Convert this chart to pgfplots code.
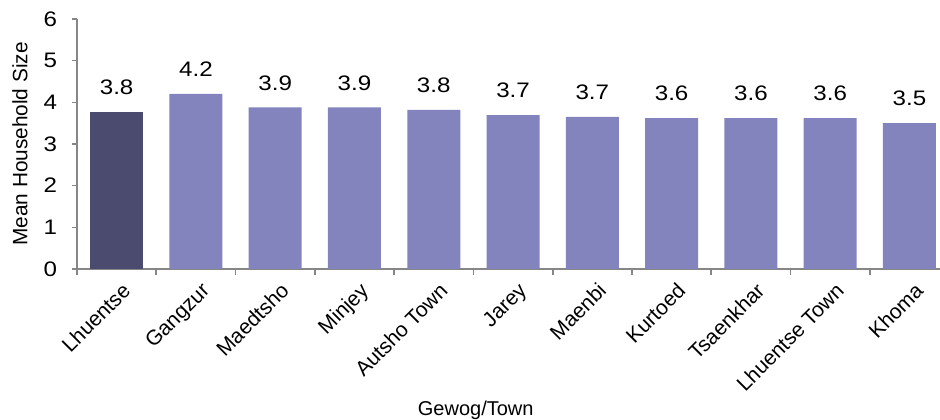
\documentclass[border=0pt]{standalone}
\usepackage{pgfplots}
\pgfplotsset{compat=1.18}
\usepackage{fontspec}
\setmainfont{Liberation Sans}
\newfontfamily\widefont[FakeStretch=1.15]{Liberation Sans}
\definecolor{barlight}{HTML}{8383BE}
\definecolor{bardark}{HTML}{4A4B6E}
\definecolor{axisgray}{HTML}{868686}
\begin{document}
\begin{tikzpicture}
\begin{axis}[
    scale only axis,
    width=431.5pt, height=125pt,
    ymin=0, ymax=6,
    ytick={0,1,2,3,4,5,6},
    xmin=-0.5, xmax=10.385,
    xtick={0,1,2,3,4,5,6,7,8,9,10},
    xticklabels={Lhuentse,Gangzur,Maedtsho,Minjey,Autsho Town,Jarey,Maenbi,Kurtoed,Tsaenkhar,Lhuentse Town,Khoma},
    minor xtick={-0.5,0.5,1.5,2.5,3.5,4.5,5.5,6.5,7.5,8.5,9.5},
    major x tick style={draw=none},
    minor tick length=3pt,
    major tick length=2.5pt,
    tick align=outside,
    axis lines*=left,
    axis line style={axisgray, line width=0.8pt},
    tick style={axisgray, line width=0.8pt},
    /pgf/number format/assume math mode=true,
    x tick label style={rotate=45, anchor=north east, font=\fontsize{10.5}{11}\selectfont, inner sep=1pt, yshift=-3pt},
    y tick label style={font=\widefont\fontsize{10.5}{11}\selectfont, xshift=-4pt},
    ylabel={Mean Household Size},
    ylabel style={at={(axis description cs:-0.066,0.5)}, anchor=center, font=\fontsize{10.4}{12}\selectfont},
    xlabel={Gewog/Town},
    xlabel style={at={(axis description cs:0.462,-0.564)}, anchor=center, font=\fontsize{10}{12}\selectfont},
    nodes near coords,
    every node near coord/.append style={font=\widefont\fontsize{10.5}{11}\selectfont, yshift=5pt,
        /pgf/number format/fixed, /pgf/number format/precision=1, /pgf/number format/fixed zerofill,
        /pgf/number format/assume math mode=true},
    clip=false,
]
\addplot[ybar, bar width=26.5pt, bar shift=0pt, fill=bardark, draw=none]
    coordinates {(0,3.77)};
\addplot[ybar, bar width=26.5pt, bar shift=0pt, fill=barlight, draw=none]
    coordinates {(1,4.2)(2,3.88)(3,3.88)(4,3.82)(5,3.69)(6,3.651)(7,3.62)(8,3.62)(9,3.62)(10,3.5)};
\coordinate (bl) at (rel axis cs:0,0);
\coordinate (tr) at (rel axis cs:1,1);
\end{axis}
\pgfresetboundingbox
\path[use as bounding box] ([xshift=-38.5pt,yshift=-75.5pt]bl) rectangle ([yshift=9.5pt]tr);
\end{tikzpicture}
\end{document}
